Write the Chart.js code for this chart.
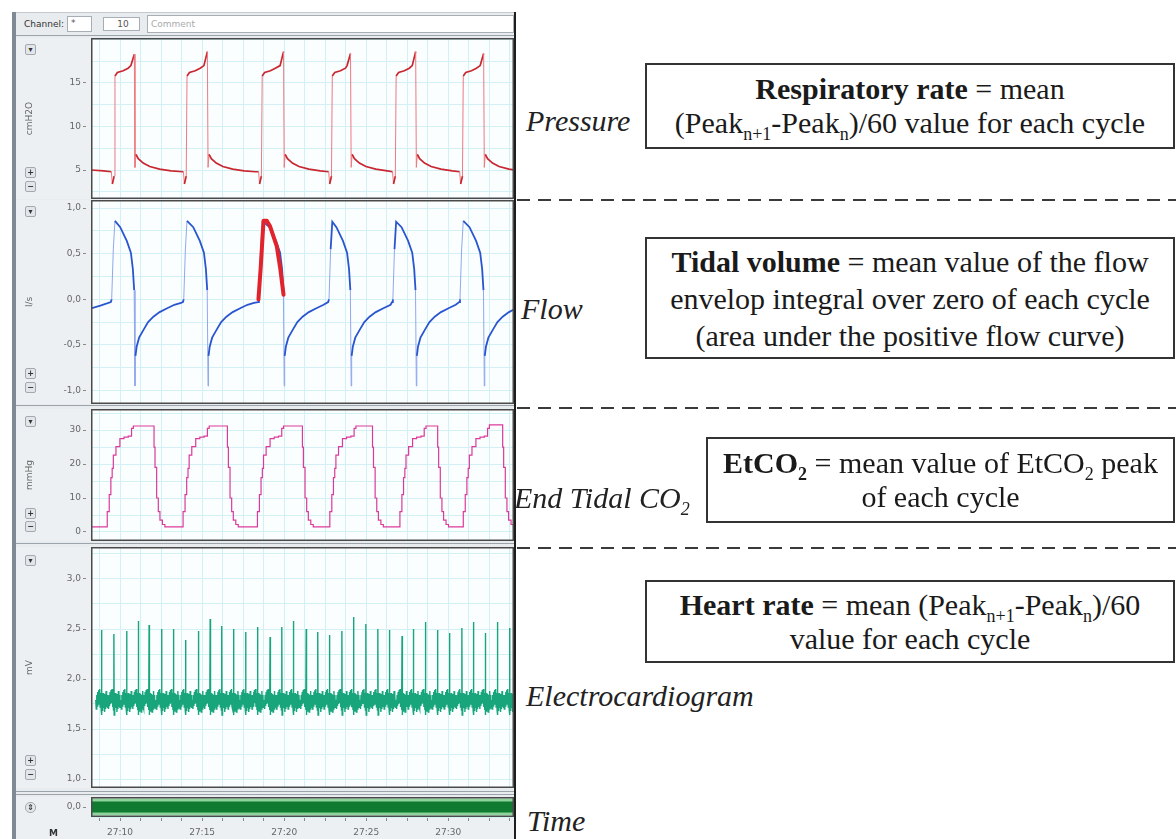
<!DOCTYPE html>
<html>
<head>
<meta charset="utf-8">
<script src="https://cdn.jsdelivr.net/npm/chart.js"></script>
<style>
  body { margin: 0; width: 1176px; height: 839px; position: relative; overflow: hidden; background: #fff; font-family: "DejaVu Sans", sans-serif; }
  canvas { position: absolute; left: 16px; background: #edf0f3; }
  .abs { position: absolute; }
  .btn { position: absolute; left: 25px; width: 9px; height: 9px; border: 1px solid #a3a9b0; border-radius: 2px; background: #e2e5e9; font-size: 8px; line-height: 9px; text-align: center; color: #333; font-weight: bold; }
  .sep { position: absolute; left: 16px; width: 498px; height: 1px; background: #9ba3ab; }
  .lab { position: absolute; font-family: "Liberation Serif", serif; font-style: italic; font-size: 30px; line-height: 32px; color: #222; white-space: nowrap; }
  .box { position: absolute; box-sizing: border-box; border: 2px solid #333; display: flex; align-items: center; justify-content: center; text-align: center; font-family: "Liberation Serif", serif; font-size: 30px; line-height: 34px; color: #1a1a1a; white-space: nowrap; }
  sub { font-size: 0.6em; vertical-align: -0.4em; line-height: 0; }
  .dash { position: absolute; left: 517px; width: 659px; height: 2px; background: repeating-linear-gradient(to right, #3a3a3a 0 13px, transparent 13px 21px); }
  .tool { position: absolute; font-size: 9px; color: #333; }
  .field { position: absolute; box-sizing: border-box; border: 1px solid #a8aeb5; background: #fff; font-size: 9px; color: #555; line-height: 13px; padding-left: 3px; }
</style>
</head>
<body>

<!-- recorder window -->
<div class="abs" style="left:12px;top:12px;width:504px;height:827px;background:#e9ecef;border-top:1px solid #c3c9cf;box-sizing:border-box"></div>
<div class="abs" style="left:12px;top:12px;width:4px;height:827px;background:#7f8a96"></div>
<div class="tool" style="left:24px;top:19px">Channel:</div>
<div class="field" style="left:67px;top:16px;width:25px;height:16px">*</div>
<div class="field" style="left:103px;top:17px;width:37px;height:14px;text-align:center">10</div>
<div class="field" style="left:147px;top:15px;width:367px;height:18px;color:#aaa;line-height:16px">Comment</div>
<div class="sep" style="top:35px"></div>

<canvas id="cPressure" width="499" height="161" style="top:38px"></canvas>
<canvas id="cFlow" width="499" height="204" style="top:200px"></canvas>
<canvas id="cCo2" width="499" height="132" style="top:409px"></canvas>
<canvas id="cEcg" width="499" height="241" style="top:547px"></canvas>
<canvas id="cTime" width="499" height="42" style="top:797px"></canvas>

<div class="sep" style="top:405px"></div>
<div class="sep" style="top:543px"></div>
<div class="sep" style="top:791px"></div>
<div class="sep" style="top:794px"></div>

<div class="btn" style="top:44px">&#9662;</div><div class="btn" style="top:167px">+</div><div class="btn" style="top:181px">&minus;</div>
<div class="btn" style="top:206px">&#9662;</div><div class="btn" style="top:368px">+</div><div class="btn" style="top:382px">&minus;</div>
<div class="btn" style="top:416px">&#9662;</div><div class="btn" style="top:508px">+</div><div class="btn" style="top:521px">&minus;</div>
<div class="btn" style="top:555px">&#9662;</div><div class="btn" style="top:755px">+</div><div class="btn" style="top:769px">&minus;</div>
<div class="btn" style="top:802px;border-radius:5px">&#8661;</div>
<div class="tool" style="left:49px;top:828px;font-weight:bold">M</div>

<div class="abs" style="left:514px;top:12px;width:2px;height:827px;background:#1e1e1e"></div>

<!-- annotations -->
<div class="lab" style="left:526px;top:105px">Pressure</div>
<div class="box" style="left:645px;top:63px;width:530px;height:86px">
  <div><b>Respiratory rate</b> = mean<br>(Peak<sub>n+1</sub>-Peak<sub>n</sub>)/60 value for each cycle</div>
</div>
<div class="dash" style="top:199px"></div>

<div class="lab" style="left:521px;top:293px">Flow</div>
<div class="box" style="left:645px;top:237px;width:530px;height:122px;line-height:37px">
  <div><b>Tidal volume</b> = mean value of the flow<br>envelop integral over zero of each cycle<br>(area under the positive flow curve)</div>
</div>
<div class="dash" style="top:407px"></div>

<div class="lab" style="left:514px;top:482px">End Tidal CO<sub>2</sub></div>
<div class="box" style="left:706px;top:437px;width:469px;height:86px">
  <div><b>EtCO<sub>2</sub></b> = mean value of EtCO<sub>2</sub> peak<br>of each cycle</div>
</div>
<div class="dash" style="top:547px"></div>

<div class="box" style="left:645px;top:580px;width:530px;height:83px">
  <div><b>Heart rate</b> = mean (Peak<sub>n+1</sub>-Peak<sub>n</sub>)/60<br>value for each cycle</div>
</div>
<div class="lab" style="left:526px;top:680px">Electrocardiogram</div>
<div class="lab" style="left:527px;top:805px">Time</div>

<script>
// time in seconds past 27:00
const timeLabels = [10, 15, 20, 25, 30];

// breathing cycles
const breathRise = [9.69, 14.08, 18.66, 22.93, 26.82, 30.91];
const breathFall = [10.91, 15.36, 20.00, 24.08, 28.05, 32.19];
const pressurePeak = [18.3, 18.6, 18.6, 18.4, 18.6, 18.4];
const pressureTicks = [5, 10, 15];
const pressureInsp = [[-0.22, 4.8], [-0.16, 3.4], [-0.05, 4.3], [0, 15.8], [0.15, 16.2], [0.5, 16.4], [0.8, 16.7]];
const pressureExp = [[0, 5.3], [0.06, 6.8], [0.2, 6.3], [0.5, 5.8], [0.9, 5.4], [1.5, 5.1], [2.2, 4.9], [2.9, 4.8]];

// flow (l/s)
const flowPeak = [0.86, 0.86, 0.86, 0.85, 0.85, 0.86];
const flowRiseShape = [[-0.15, -0.03], [-0.1, 0.0], [0.0, 0.55]];
const flowInspShape = [[-0.9, 0.79], [-0.5, 0.64], [-0.25, 0.51], [-0.13, 0.33], [-0.05, 0.1]];
const flowExpShape = [[0, -0.95], [0.03, -0.62], [0.1, -0.52], [0.25, -0.42], [0.5, -0.34], [0.8, -0.25], [1.12, -0.19], [1.5, -0.14], [1.93, -0.10], [2.4, -0.06], [2.8, -0.04]];
const flowMarkT = [18.43, 18.57, 18.74, 18.94, 19.14, 19.55, 19.75, 19.96];
const flowMarkV = [0.0, 0.35, 0.86, 0.86, 0.80, 0.58, 0.35, 0.05];

// end tidal CO2 (mmHg)
const co2Rise = [9.14, 13.76, 18.29, 22.70, 26.97, 30.83];
const co2Drop = [12.03, 16.50, 21.07, 25.34, 29.31, 33.27];
const co2Peak = [31.2, 31.2, 31.2, 31.2, 31.2, 31.5];
const co2RiseShape = [[0, 1.5], [0.08, 6], [0.2, 11], [0.3, 16], [0.38, 18.7], [0.45, 22.6], [0.61, 25.1], [0.85, 27.5], [1.1, 27.9], [1.36, 28.2], [1.56, 30.5]];
const co2DropShape = [[0.04, 25], [0.1, 19], [0.2, 10], [0.3, 6], [0.4, 3.5], [0.55, 2.2], [0.7, 1.5]];

// ECG (mV): R peak times and heights
const ecgBeats = [8.88, 9.63, 10.41, 11.11, 11.77, 12.54, 13.25, 14.00, 14.77, 15.49, 16.20, 16.91, 17.66, 18.37, 19.14, 19.86, 20.57, 21.34, 22.05, 22.76, 23.52, 24.22, 24.98, 25.71, 26.42, 27.18, 27.88, 28.60, 29.35, 30.08, 30.83, 31.54, 32.25, 33.00, 33.74];
const ecgPeaks = [2.49, 2.45, 2.48, 2.58, 2.54, 2.50, 2.50, 2.39, 2.48, 2.60, 2.53, 2.50, 2.47, 2.52, 2.42, 2.52, 2.58, 2.50, 2.47, 2.44, 2.48, 2.62, 2.55, 2.50, 2.49, 2.43, 2.50, 2.57, 2.49, 2.46, 2.51, 2.57, 2.46, 2.57, 2.51];
const ecgBefore = [[-0.36, 1.79], [-0.33, 1.70], [-0.30, 1.84], [-0.27, 1.73], [-0.24, 1.87], [-0.21, 1.75], [-0.18, 1.89], [-0.15, 1.76], [-0.12, 1.90], [-0.09, 1.72], [-0.06, 1.86], [-0.03, 1.69], [-0.012, 1.82]];
const ecgAfter = [[0.012, 1.64], [0.03, 1.83], [0.06, 1.68], [0.09, 1.86], [0.12, 1.71], [0.15, 1.85], [0.18, 1.67], [0.21, 1.84], [0.24, 1.70], [0.27, 1.88], [0.30, 1.72], [0.33, 1.84], [0.36, 1.71]];

// time channel
const timeBandT = [8.23, 34.0];
const timeBandV = [0, 0];

const X_MIN = 8.23, X_MAX = 34.0;

function isMultiple(v, m) {
    return Math.abs(v / m - Math.round(v / m)) < 1e-6;
}

function comma(v, digits) {
    return v.toFixed(digits).replace(".", ",");
}

function buildPressure() {
    const pts = [{x: X_MIN, y: 5.0}, {x: 9.0, y: 4.9}];
    breathRise.forEach((r, i) => {
        const f = breathFall[i];
        const next = i + 1 < breathRise.length ? breathRise[i + 1] : Infinity;
        pressureInsp.forEach(([d, v]) => pts.push({x: r + d, y: v}));
        pts.push({x: f - 0.25, y: 17.0});
        pts.push({x: f - 0.04, y: pressurePeak[i]});
        pressureExp.forEach(([d, v]) => { if (f + d < next - 0.3) pts.push({x: f + d, y: v}); });
    });
    return pts;
}

function buildFlow() {
    const pts = [{x: X_MIN, y: -0.1}, {x: 8.8, y: -0.07}];
    breathRise.forEach((rise, i) => {
        const r = rise - 0.1;
        const f = breathFall[i];
        const next = i + 1 < breathRise.length ? breathRise[i + 1] - 0.1 : Infinity;
        flowRiseShape.forEach(([d, v]) => pts.push({x: r + d, y: v}));
        pts.push({x: r + 0.1, y: flowPeak[i]});
        flowInspShape.forEach(([d, v]) => pts.push({x: f + d, y: v}));
        flowExpShape.forEach(([d, v]) => { if (f + d < next - 0.2) pts.push({x: f + d, y: v}); });
    });
    return pts;
}

function buildCo2() {
    const pts = [{x: X_MIN, y: 1.5}];
    co2Rise.forEach((r, i) => {
        const d0 = co2Drop[i];
        co2RiseShape.forEach(([d, v]) => pts.push({x: r + d, y: v}));
        pts.push({x: r + 1.67, y: co2Peak[i]});
        pts.push({x: d0, y: co2Peak[i]});
        co2DropShape.forEach(([d, v]) => pts.push({x: d0 + d, y: v}));
    });
    pts.push({x: X_MAX, y: 1.5});
    return pts;
}

function buildEcg() {
    const pts = [];
    ecgBeats.forEach((r, i) => {
        const lo = i > 0 ? (ecgBeats[i - 1] + r) / 2 : X_MIN;
        const hi = i + 1 < ecgBeats.length ? (ecgBeats[i + 1] + r) / 2 : X_MAX;
        ecgBefore.forEach(([d, v]) => { if (r + d >= lo) pts.push({x: r + d, y: v}); });
        pts.push({x: r, y: ecgPeaks[i]});
        ecgAfter.forEach(([d, v]) => { if (r + d < hi) pts.push({x: r + d, y: v}); });
    });
    return pts;
}

function steepSegments(limit, steepColor, color, steepWidth, width) {
    const steep = ctx => Math.abs((ctx.p1.parsed.y - ctx.p0.parsed.y) / (ctx.p1.parsed.x - ctx.p0.parsed.x)) > limit;
    return {
        borderColor: ctx => steep(ctx) ? steepColor : color,
        borderWidth: ctx => steep(ctx) ? steepWidth : width
    };
}

const plotFrame = {
    id: "plotFrame",
    beforeDraw(chart) {
        const {ctx, chartArea: a} = chart;
        ctx.save();
        ctx.fillStyle = "#fafeff";
        ctx.fillRect(a.left, a.top, a.width, a.height);
        ctx.restore();
    },
    afterDraw(chart) {
        const {ctx, chartArea: a} = chart;
        ctx.save();
        ctx.strokeStyle = "#4a4a4a";
        ctx.lineWidth = 1.5;
        ctx.strokeRect(a.left + 0.75, a.top + 0.75, a.width - 1.5, a.height - 1.5);
        ctx.restore();
    }
};

const tickFont = {size: 9, family: "DejaVu Sans"};
const gridColor = "#d3f0f4";

function makePanel(id, datasets, y, timeAxis) {
    return new Chart(document.getElementById(id), {
        type: "line",
        data: {datasets: datasets},
        options: {
            responsive: false,
            animation: false,
            events: [],
            layout: {padding: {left: 0, right: 1, top: 0, bottom: 0}},
            plugins: {legend: {display: false}, tooltip: {enabled: false}},
            elements: {point: {radius: 0}, line: {tension: 0}},
            scales: {
                x: {
                    type: "linear",
                    min: X_MIN,
                    max: X_MAX,
                    ticks: {
                        display: timeAxis,
                        stepSize: 1.25,
                        includeBounds: false,
                        autoSkip: false,
                        maxRotation: 0,
                        color: "#666",
                        font: tickFont,
                        padding: 6,
                        callback: v => timeLabels.some(t => Math.abs(t - v) < 1e-6) ? "27:" + String(Math.round(v)).padStart(2, "0") : ""
                    },
                    grid: {color: gridColor, drawTicks: timeAxis, tickLength: 4, tickColor: "#888"},
                    border: {display: false},
                    afterFit: s => {
                        s.paddingLeft = 0;
                        s.paddingRight = 0;
                        s.height = timeAxis ? 22 : 0;
                    }
                },
                y: {
                    min: y.min,
                    max: y.max,
                    ticks: {
                        stepSize: y.step,
                        includeBounds: false,
                        autoSkip: false,
                        color: "#666",
                        font: tickFont,
                        padding: 2,
                        callback: v => y.labels.some(t => Math.abs(t - v) < 1e-6) ? y.fmt(v) : ""
                    },
                    grid: {
                        color: gridColor,
                        tickLength: 8,
                        tickColor: ctx => ctx.tick && ctx.tick.label ? "#8a8a8a" : "rgba(0,0,0,0)",
                        tickBorderDash: [3, 8]
                    },
                    border: {display: false},
                    title: {
                        display: !!y.unit,
                        text: y.unit,
                        color: "#666",
                        font: tickFont,
                        padding: {top: 8, bottom: 0}
                    },
                    afterFit: s => {
                        s.width = 75;
                        s.paddingTop = 0;
                        s.paddingBottom = 0;
                    }
                }
            }
        },
        plugins: [plotFrame]
    });
}

makePanel("cPressure", [{
    data: buildPressure(),
    borderColor: "#c9262f",
    borderWidth: 1.7,
    segment: steepSegments(20, "#ee7a80", "#c9262f", 1, 1.7)
}], {min: 1.67, max: 20.17, step: 2.5, labels: pressureTicks, fmt: v => String(v), unit: "cmH2O"}, false);

makePanel("cFlow", [{
    data: flowMarkT.map((t, i) => ({x: t, y: flowMarkV[i]})),
    borderColor: "#e3232b",
    borderWidth: 4,
    borderJoinStyle: "round",
    borderCapStyle: "round"
}, {
    data: buildFlow(),
    borderColor: "#2a55d0",
    borderWidth: 1.6,
    segment: steepSegments(3, "#92a8ec", "#2a55d0", 1, 1.8)
}], {min: -1.147, max: 1.088, step: 0.25, labels: [-1, -0.5, 0, 0.5, 1], fmt: v => comma(v, 1), unit: "l/s"}, false);

makePanel("cCo2", [{
    data: buildCo2(),
    borderColor: "#dc3a9a",
    borderWidth: 1.2,
    stepped: true
}], {min: -2.65, max: 36.2, step: 5, labels: [0, 10, 20, 30], fmt: v => String(v), unit: "mmHg"}, false);

makePanel("cEcg", [{
    data: buildEcg(),
    borderColor: "#19a57b",
    borderWidth: 1.4
}], {min: 0.91, max: 3.32, step: 0.25, labels: [1, 1.5, 2, 2.5, 3], fmt: v => comma(v, 1), unit: "mV"}, false);

makePanel("cTime", [{
    data: timeBandT.map((t, i) => ({x: t, y: timeBandV[i]})),
    borderColor: "#0f7a30",
    borderWidth: 11
}, {
    data: timeBandT.map((t, i) => ({x: t, y: timeBandV[i]})),
    borderColor: "#8fd39c",
    borderWidth: 17
}], {min: -1, max: 1, step: 1, labels: [0], fmt: v => comma(v, 1), unit: ""}, true);
</script>
</body>
</html>
